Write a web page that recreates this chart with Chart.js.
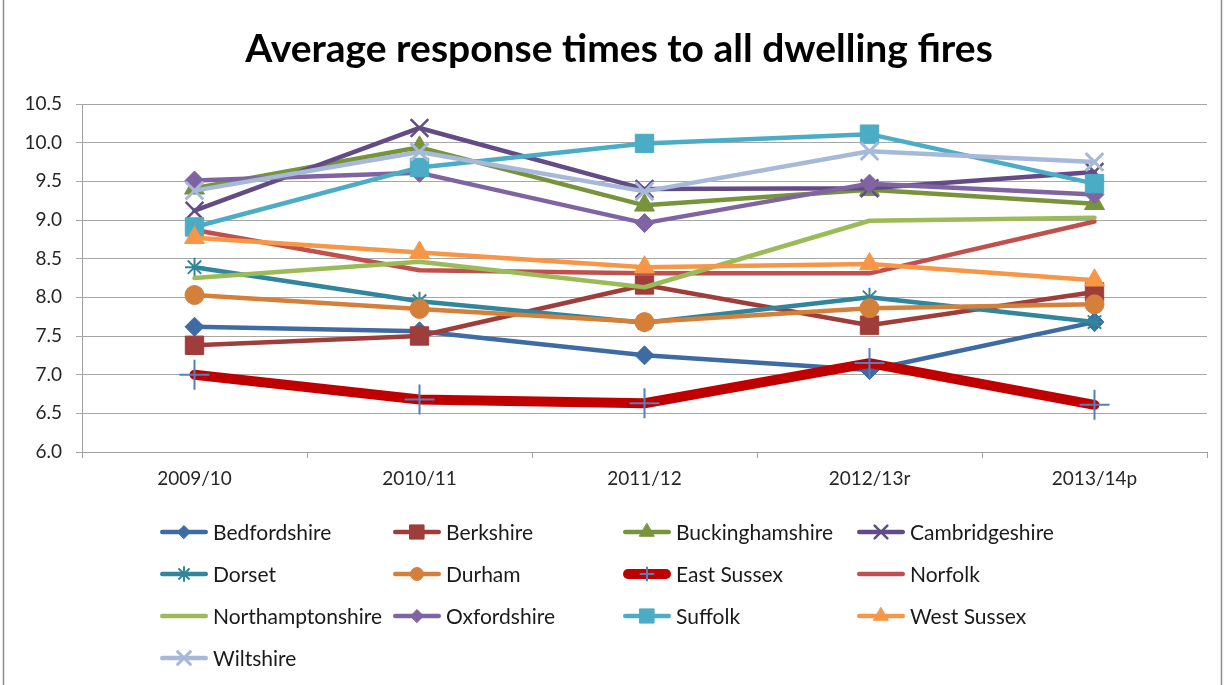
<!DOCTYPE html>
<html>
<head>
<meta charset="utf-8">
<title>Average response times to all dwelling fires</title>
<script src="https://cdn.jsdelivr.net/npm/chart.js@4.4.1/dist/chart.umd.min.js"></script>
<style>
  body { margin: 0; background: #fff; }
  #wrap { position: relative; width: 1225px; height: 685px; }
</style>
</head>
<body>
<div id="wrap"><canvas id="myChart" width="1225" height="685"></canvas></div>
<script>
const years = ["2009/10", "2010/11", "2011/12", "2012/13r", "2013/14p"];

const bedfordshire = [7.62, 7.56, 7.25, 7.06, 7.68];
const berkshire = [7.38, 7.50, 8.16, 7.64, 8.07];
const buckinghamshire = [9.41, 9.94, 9.19, 9.39, 9.21];
const cambridgeshire = [9.12, 10.19, 9.40, 9.41, 9.62];
const dorset = [8.39, 7.95, 7.67, 8.00, 7.68];
const durham = [8.03, 7.85, 7.68, 7.86, 7.91];
const eastSussex = [7.00, 6.68, 6.63, 7.15, 6.61];
const norfolk = [8.87, 8.35, 8.31, 8.31, 8.98];
const northamptonshire = [8.25, 8.46, 8.13, 8.99, 9.03];
const oxfordshire = [9.51, 9.61, 8.96, 9.47, 9.33];
const suffolk = [8.91, 9.68, 9.99, 10.11, 9.47];
const westSussex = [8.77, 8.58, 8.39, 8.43, 8.22];
const wiltshire = [9.38, 9.88, 9.37, 9.89, 9.75];

const yMin = 6.0;
const yMax = 10.5;
const yStep = 0.5;

const series = [
  { name: "Bedfordshire", data: bedfordshire, color: "#3E6BA3", marker: "rectRot", size: 9.5, key: 6.5 },
  { name: "Berkshire", data: berkshire, color: "#9F3D3A", marker: "rect", size: 13, key: 10 },
  { name: "Buckinghamshire", data: buckinghamshire, color: "#77933C", marker: "triangle", size: 11.5, key: 8.5 },
  { name: "Cambridgeshire", data: cambridgeshire, color: "#634C86", marker: "crossRot", size: 12.5, key: 9, markerLine: 2.5 },
  { name: "Dorset", data: dorset, color: "#31859C", marker: "star", size: 9.5, key: 7, markerLine: 2 },
  { name: "Durham", data: durham, color: "#D47F3A", marker: "circle", size: 9.5, key: 6.5 },
  { name: "East Sussex", data: eastSussex, color: "#C00000", marker: "cross", size: 15, key: 6.5, width: 10, markerColor: "#4F81BD", markerLine: 2 },
  { name: "Norfolk", data: norfolk, color: "#C0504D", marker: false, size: 0 },
  { name: "Northamptonshire", data: northamptonshire, color: "#9BBB59", marker: false, size: 0 },
  { name: "Oxfordshire", data: oxfordshire, color: "#8064A2", marker: "rectRot", size: 9.5, key: 6.5 },
  { name: "Suffolk", data: suffolk, color: "#4BACC6", marker: "rect", size: 13, key: 10 },
  { name: "West Sussex", data: westSussex, color: "#F79646", marker: "triangle", size: 11.5, key: 8.5 },
  { name: "Wiltshire", data: wiltshire, color: "#A7B9D9", marker: "crossRot", size: 12.5, key: 9, markerLine: 3 }
];

const lineWidth = 4.5;

const datasets = series.map((s, i) => ({
  label: s.name,
  data: s.data,
  borderColor: s.color,
  borderWidth: s.width || lineWidth,
  borderJoinStyle: "round",
  borderCapStyle: "round",
  fill: false,
  tension: 0,
  // later series sit on top
  order: series.length - i,
  pointStyle: s.marker,
  pointRadius: s.marker ? s.size : 0,
  pointHoverRadius: s.marker ? s.size : 0,
  pointBackgroundColor: s.markerColor || s.color,
  pointBorderColor: s.markerColor || s.color,
  pointBorderWidth: s.markerLine || 1
}));

const font = "Lato, 'Open Sans', sans-serif";

// title, frame and the four-column legend underneath the plot
const decorations = {
  id: "decorations",
  afterDraw(chart) {
    const ctx = chart.ctx;
    ctx.save();

    ctx.strokeStyle = "#8C8C8C";
    ctx.lineWidth = 1.5;
    ctx.beginPath();
    ctx.moveTo(3.5, 0);
    ctx.lineTo(3.5, 685);
    ctx.moveTo(1221.5, 0);
    ctx.lineTo(1221.5, 685);
    ctx.stroke();

    ctx.fillStyle = "#000";
    ctx.font = "bold 39px " + font;
    ctx.textAlign = "center";
    ctx.textBaseline = "middle";
    ctx.fillText("Average response times to all dwelling fires", 619, 49);

    const colX = [160, 393, 623, 857];
    const rowY = [532, 574, 616, 658];
    ctx.font = "21px " + font;
    ctx.textAlign = "left";
    series.forEach((s, i) => {
      const x = colX[i % 4];
      const y = rowY[Math.floor(i / 4)];
      const w = s.width || lineWidth;
      ctx.strokeStyle = s.color;
      ctx.lineWidth = w;
      ctx.lineCap = "round";
      ctx.beginPath();
      ctx.moveTo(x + w / 2, y);
      ctx.lineTo(x + 48 - w / 2, y);
      ctx.stroke();
      if (s.marker) {
        ctx.fillStyle = s.markerColor || s.color;
        ctx.strokeStyle = s.markerColor || s.color;
        ctx.lineWidth = s.markerLine || 1;
        Chart.helpers.drawPoint(ctx, {
          pointStyle: s.marker,
          radius: s.key,
          rotation: 0,
          borderWidth: s.markerLine || 1
        }, x + 24, y);
      }
      ctx.fillStyle = "#1A1A1A";
      ctx.fillText(s.name, x + 53, y + 1);
    });

    ctx.restore();
  }
};

const ctx = document.getElementById("myChart").getContext("2d");
const myChart = new Chart(ctx, {
  type: "line",
  data: { labels: years, datasets: datasets },
  options: {
    responsive: false,
    animation: false,
    layout: { padding: { left: 0, right: 18, top: 104, bottom: 0 } },
    plugins: {
      legend: { display: false },
      title: { display: false },
      tooltip: { enabled: false }
    },
    scales: {
      x: {
        offset: true,
        afterFit: scale => { scale.height = 233; },
        grid: {
          offset: true,
          drawOnChartArea: false,
          drawTicks: true,
          tickLength: 6,
          color: "#A0A0A0"
        },
        border: { color: "#A0A0A0", width: 1 },
        ticks: {
          padding: 9,
          color: "#262626",
          font: { family: font, size: 19 }
        }
      },
      y: {
        min: yMin,
        max: yMax,
        afterFit: scale => { scale.width = 82; },
        grid: { color: "#A6A6A6", tickLength: 6, lineWidth: 1 },
        border: { color: "#A0A0A0", width: 1 },
        ticks: {
          stepSize: yStep,
          padding: 14,
          color: "#262626",
          font: { family: font, size: 19 },
          callback: v => v.toFixed(1)
        }
      }
    }
  },
  plugins: [decorations]
});
</script>
</body>
</html>
